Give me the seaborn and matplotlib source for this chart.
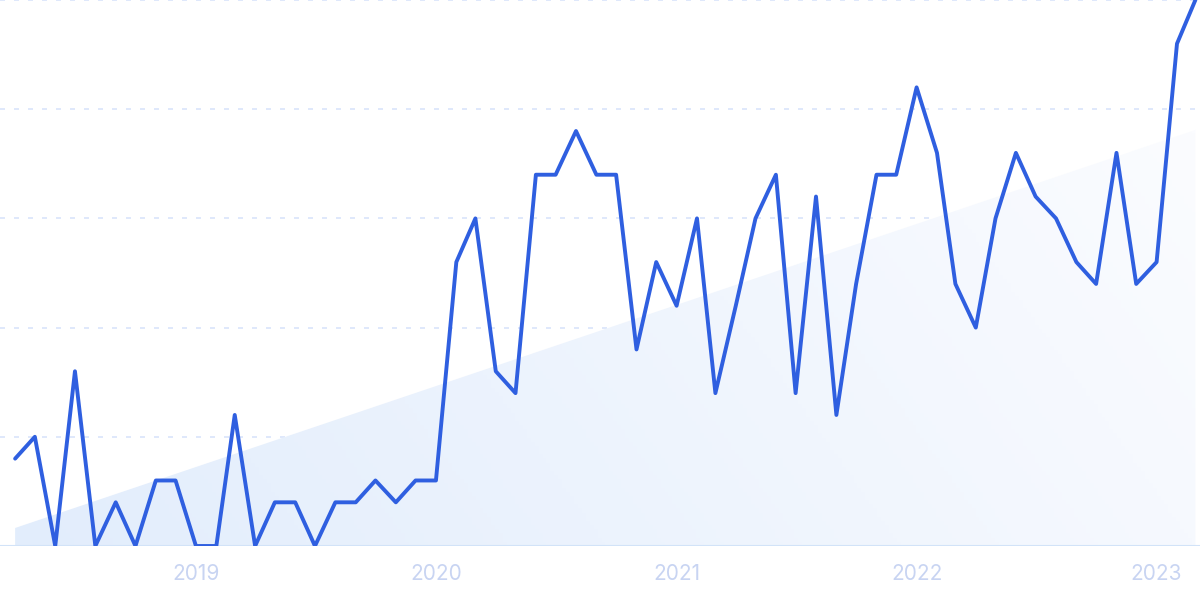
import numpy as np
import pandas as pd
import seaborn as sns
import matplotlib.pyplot as plt
from matplotlib.patches import Polygon
import matplotlib.dates as mdates

# monthly search interest (relative, 0-100), Apr 2018 - Mar 2023
values = [16, 20, 0, 32, 0, 8, 0, 12, 12, 0, 0, 24,
          0, 8, 8, 0, 8, 8, 12, 8, 12, 12, 52, 60,
          32, 28, 68, 68, 76, 68, 68, 36, 52, 44, 60, 28,
          44, 60, 68, 28, 64, 24, 48, 68, 68, 84, 72, 48,
          40, 60, 72, 64, 60, 52, 48, 72, 48, 52, 92, 100]
months = pd.date_range("2018-04-01", periods=len(values), freq="MS")
trend_ends = [3.3, 76.2]
tick_years = ["2019", "2020", "2021", "2022", "2023"]

df = pd.DataFrame({"month": months, "value": values})

sns.set_style("white")
plt.rcParams['font.family'] = ['Inter', 'DejaVu Sans']

fig = plt.figure(figsize=(12, 5.99), dpi=100)
ax = fig.add_axes([0, 53 / 599, 1, 546 / 599])

x0 = mdates.date2num(months[0])
x1 = mdates.date2num(months[-1])
ax.set_xlim(x0 - 23, x1 + 7)
ax.set_ylim(0, 100)

# shaded trend area with a soft gradient
poly = Polygon([[x0, 0], [x0, trend_ends[0]], [x1, trend_ends[1]], [x1, 0]],
               closed=True, facecolor="none", edgecolor="none")
ax.add_patch(poly)
gx, gy = np.meshgrid(np.linspace(0, 1, 300), np.linspace(0, 1, 100))
t = np.clip(0.8 * gx + 0.2 * (1 - gy), 0, 1)
c0 = np.array([226, 237, 252]) / 255
c1 = np.array([251, 252, 255]) / 255
img = c0[None, None, :] * (1 - t[..., None]) + c1[None, None, :] * t[..., None]
im = ax.imshow(img, extent=[x0, x1, 0, trend_ends[1]], origin="upper",
               aspect="auto", zorder=1)
im.set_clip_path(poly)

# grid lines
for yv in [20, 40, 60, 80, 100]:
    ax.axhline(yv, color="#d9e4fb", lw=1.2, dashes=(3, 5.4), zorder=0)
ax.axhline(0, color="#d2e3f8", lw=1.5, zorder=2)

sns.lineplot(data=df, x="month", y="value", ax=ax, color="#2f5fe0",
             lw=2.8, zorder=3)

ax.set_xticks([pd.Timestamp(f"{y}-01-01") for y in tick_years])
ax.set_xticklabels(tick_years)
ax.tick_params(axis="x", length=0, pad=13, labelsize=15, labelcolor="#c8d4f2")
ax.set_yticks([])
ax.set_xlabel("")
ax.set_ylabel("")
for s in ax.spines.values():
    s.set_visible(False)

fig.savefig("out.png", dpi=100)
